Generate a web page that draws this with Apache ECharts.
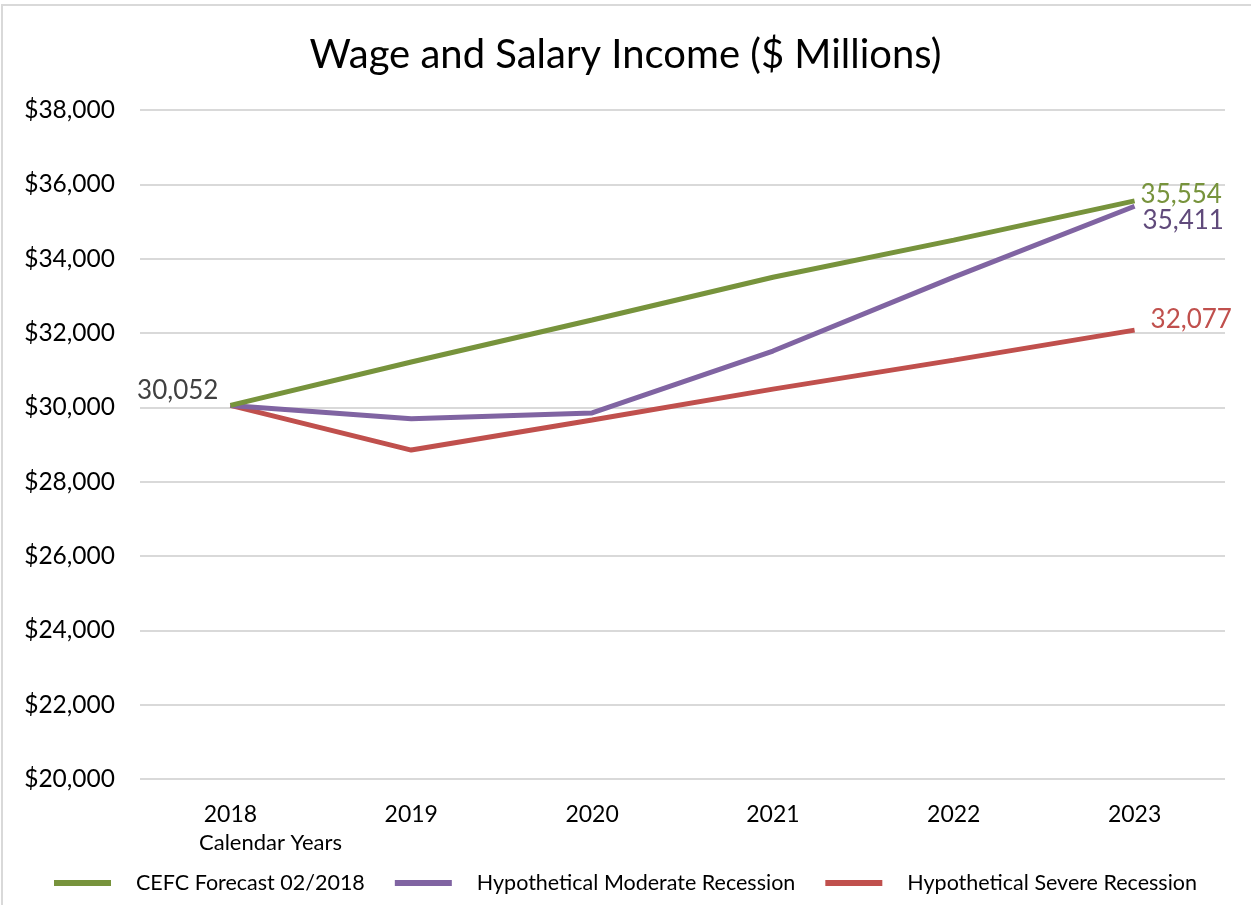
<!DOCTYPE html>
<html>
<head>
<meta charset="utf-8">
<script src="https://cdn.jsdelivr.net/npm/echarts@6/dist/echarts.min.js"></script>
<style>html,body{margin:0;padding:0;background:#fff;}#c{width:1251px;height:905px;}</style>
</head>
<body>
<div id="c"></div>
<script>
const categories = ['2018','2019','2020','2021','2022','2023'];
const cefc = [30052, 31220, 32350, 33500, 34500, 35554];
const moderate = [30052, 29690, 29850, 31515, 33505, 35411];
const severe = [30052, 28850, 29660, 30490, 31270, 32077];
const seriesNames = ['CEFC Forecast 02/2018', 'Hypothetical Moderate Recession', 'Hypothetical Severe Recession'];
const colors = ['#77933c', '#8064a2', '#c0504d'];
const labelColors = ['#77933c', '#604a7b', '#c0504d'];
const FONT = 'Lato';

function fmt(v){ return v.toLocaleString('en-US'); }

function mkData(arr, idx){
  return arr.map((v, i) => {
    const d = {value: v};
    if (i === arr.length - 1) {
      const offs = [[0,-6],[2,14],[10,-11]][idx];
      d.label = {show: true, position: 'right', distance: 6, offset: offs, color: labelColors[idx], fontSize: 26, fontFamily: FONT, formatter: p => fmt(p.value)};
    } else if (i === 0 && idx === 0) {
      d.label = {show: true, position: 'left', distance: 12, offset: [0,-15], color: '#404040', fontSize: 26, fontFamily: FONT, formatter: p => fmt(p.value)};
    }
    return d;
  });
}

const chart = echarts.init(document.getElementById('c'));
chart.setOption({
  animation: false,
  title: {text: 'Wage and Salary Income ($ Millions)', left: 'center', top: 30, textStyle: {fontFamily: FONT, fontSize: 40, fontWeight: 'normal', color: '#000'}},
  graphic: [
    {type: 'rect', shape: {x: 2, y: 5, width: 1300, height: 1000}, style: {fill: 'none', stroke: '#d9d9d9', lineWidth: 2}, silent: true},
    {type: 'text', left: 199, top: 832, style: {text: 'Calendar Years', fontFamily: FONT, fontSize: 22, fill: '#000'}}
  ],
  legend: {
    top: 867, left: 'center',
    icon: 'rect', itemWidth: 57, itemHeight: 6, itemGap: 30,
    textStyle: {fontFamily: FONT, fontSize: 21.5, color: '#000', padding: [0,0,0,20]},
    data: seriesNames
  },
  grid: {left: 140, right: 26, top: 110, bottom: 126},
  xAxis: {
    type: 'category', data: categories, boundaryGap: true,
    axisLine: {show: false}, axisTick: {show: false},
    axisLabel: {fontFamily: FONT, fontSize: 23, color: '#000', margin: 24}
  },
  yAxis: {
    type: 'value', min: 20000, max: 38000, interval: 2000,
    axisLine: {show: false}, axisTick: {show: false},
    splitLine: {lineStyle: {color: '#d9d9d9', width: 2}},
    axisLabel: {fontFamily: FONT, fontSize: 24.5, color: '#000', margin: 25, formatter: v => '$' + fmt(v)}
  },
  series: [
    {name: seriesNames[0], type: 'line', data: mkData(cefc, 0), showSymbol: true, symbol: 'circle', symbolSize: 0, lineStyle: {color: colors[0], width: 5}, itemStyle: {color: colors[0]}, z: 3},
    {name: seriesNames[1], type: 'line', data: mkData(moderate, 1), showSymbol: true, symbol: 'circle', symbolSize: 0, lineStyle: {color: colors[1], width: 5}, itemStyle: {color: colors[1]}, z: 2},
    {name: seriesNames[2], type: 'line', data: mkData(severe, 2), showSymbol: true, symbol: 'circle', symbolSize: 0, lineStyle: {color: colors[2], width: 5}, itemStyle: {color: colors[2]}, z: 1}
  ]
});
</script>
</body>
</html>
